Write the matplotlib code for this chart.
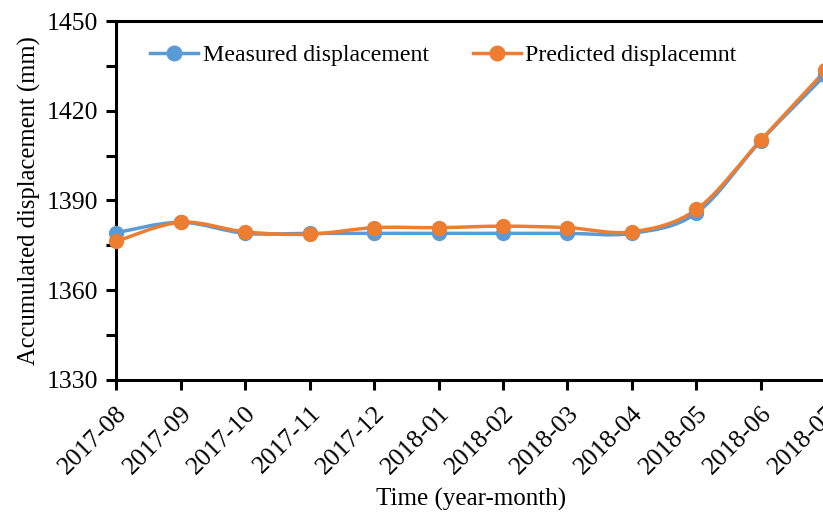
import matplotlib.pyplot as plt
from matplotlib.path import Path
from matplotlib.patches import PathPatch
from matplotlib.lines import Line2D

months = ["2017-08", "2017-09", "2017-10", "2017-11", "2017-12", "2018-01",
          "2018-02", "2018-03", "2018-04", "2018-05", "2018-06", "2018-07"]
measured = [1379.2, 1382.7, 1379.0, 1379.0, 1379.0, 1379.0,
            1379.0, 1379.0, 1379.0, 1385.8, 1410.0, 1432.0]
predicted = [1376.3, 1382.7, 1379.5, 1378.7, 1380.9, 1380.9,
             1381.4, 1380.9, 1379.5, 1387.0, 1410.2, 1433.5]

BLUE = "#5B9BD5"
ORANGE = "#ED7D31"

plt.rcParams["font.family"] = ["Liberation Serif", "DejaVu Serif"]


# smooth line like a spreadsheet chart, built as bezier path
def smooth_path(xs, ys):
    pts = list(zip(xs, ys))
    verts = [pts[0]]
    codes = [Path.MOVETO]
    n = len(pts)
    for i in range(n - 1):
        p0 = pts[i - 1] if i > 0 else pts[i]
        p1 = pts[i]
        p2 = pts[i + 1]
        p3 = pts[i + 2] if i + 2 < n else pts[i + 1]
        c1 = (p1[0] + (p2[0] - p0[0]) / 6, p1[1] + (p2[1] - p0[1]) / 6)
        c2 = (p2[0] - (p3[0] - p1[0]) / 6, p2[1] - (p3[1] - p1[1]) / 6)
        verts += [c1, c2, p2]
        codes += [Path.CURVE4] * 3
    return Path(verts, codes)


def draw_series(ax, ys, color, label):
    xs = list(range(len(ys)))
    patch = PathPatch(smooth_path(xs, ys), facecolor="none", edgecolor=color,
                      lw=2.5, zorder=3, clip_on=False)
    ax.add_patch(patch)
    ax.plot(xs, ys, "o", color=color, ms=10, zorder=4, clip_on=False)
    return Line2D([], [], color=color, lw=2.5, marker="o", ms=10.5, label=label)


fig = plt.figure(figsize=(8.23, 5.14), dpi=100)
ax = fig.add_axes([0.141, 0.261, 0.862, 0.698])

h1 = draw_series(ax, measured, BLUE, "Measured displacement")
h2 = draw_series(ax, predicted, ORANGE, "Predicted displacemnt")

ax.set_xlim(0, len(months) - 1)
ax.set_ylim(1330, 1450)
ax.set_yticks([1330, 1360, 1390, 1420, 1450])
ax.set_yticks([1345, 1375, 1405, 1435], minor=True)
ax.set_xticks(range(len(months)))
ax.set_xticklabels(months, rotation=45, ha="right", rotation_mode="anchor")

ax.tick_params(axis="both", which="both", direction="out", width=2.2,
               length=7, labelsize=18.5)
ax.tick_params(axis="y", pad=6)
ax.tick_params(axis="x", pad=9)

for side in ["left", "bottom", "top"]:
    ax.spines[side].set_linewidth(2.2)
ax.spines["right"].set_visible(False)

ax.set_xlabel("Time (year-month)", fontsize=18)
ax.set_ylabel("Accumulated displacement (mm)", fontsize=17.7)
ax.xaxis.set_label_coords(0.5, -0.30)
ax.yaxis.set_label_coords(-0.106, 0.5)

ax.legend(handles=[h1, h2], ncol=2, frameon=False, fontsize=17.2,
          loc="upper left", bbox_to_anchor=(0.048, 0.935), handlelength=2.0,
          handletextpad=0.2, columnspacing=1.85, borderpad=0,
          borderaxespad=0)

fig.savefig("out.png", dpi=100)
